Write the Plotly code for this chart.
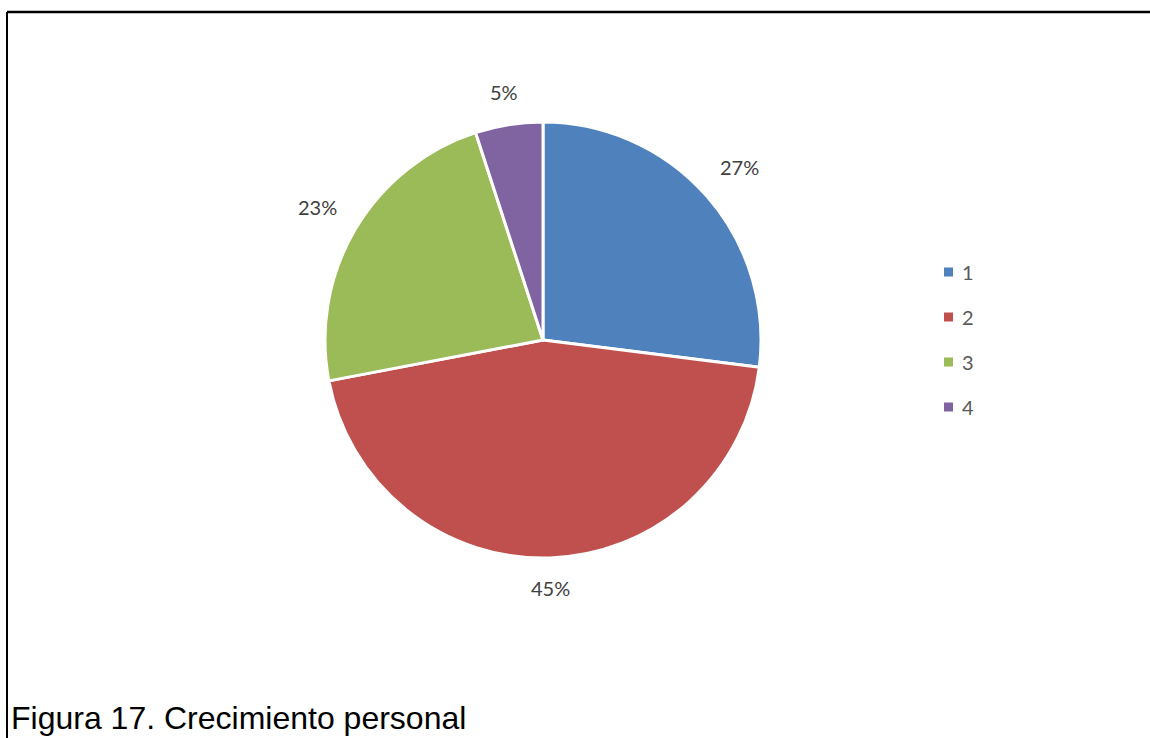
import math
import plotly.graph_objects as go

# Data
categories = ["1", "2", "3", "4"]
values = [27, 45, 23, 5]
colors = ["#4F81BD", "#C0504D", "#9BBB59", "#8064A2"]
caption = "Figura 17. Crecimiento personal"

W, H = 1150, 738
cx, cy, R = 543, 340, 218  # pie centre and radius in pixels


def px(x):
    return x / W


def py(y):
    return 1 - y / H


fig = go.Figure()
fig.add_trace(go.Pie(
    labels=categories,
    values=values,
    sort=False,
    direction="clockwise",
    rotation=0,
    marker=dict(colors=colors, line=dict(color="white", width=3)),
    textinfo="none",
    hoverinfo="label+percent",
    showlegend=False,
    domain=dict(x=[px(cx - R), px(cx + R)], y=[py(cy + R), py(cy - R)]),
))

annotations = []
shapes = []

# Percentage labels outside each slice, at the slice's mid angle
total = sum(values)
label_font = dict(family="Lato, Open Sans, sans-serif", size=20, color="#404040")
cum = 0
for v in values:
    mid = (cum + v / 2) / total * 2 * math.pi
    cum += v
    dx, dy = math.sin(mid), -math.cos(mid)
    r = R + 10 + 28 * abs(dx) + 19 * abs(dy)
    lx, ly = cx + r * dx, cy + r * dy
    annotations.append(dict(
        x=px(lx), y=py(ly), xref="paper", yref="paper",
        text=f"{round(v / total * 100)}%", showarrow=False,
        xanchor="center", yanchor="middle", font=label_font,
    ))

# Legend: small squares with category names
leg_x, leg_y0, leg_dy, sq = 948.5, 272, 45, 9
for i, (cat, col) in enumerate(zip(categories, colors)):
    yy = leg_y0 + i * leg_dy
    shapes.append(dict(
        type="rect", xref="paper", yref="paper",
        x0=px(leg_x - sq / 2), x1=px(leg_x + sq / 2),
        y0=py(yy + sq / 2), y1=py(yy - sq / 2),
        fillcolor=col, line=dict(width=0),
    ))
    annotations.append(dict(
        x=px(960), y=py(yy), xref="paper", yref="paper",
        text=cat, showarrow=False, xanchor="left", yanchor="middle",
        font=dict(family="Lato, Open Sans, sans-serif", size=20, color="#595959"),
    ))

# Frame lines
shapes.append(dict(type="line", xref="paper", yref="paper",
                   x0=px(7), x1=1, y0=py(12), y1=py(12),
                   line=dict(color="black", width=2.5)))
shapes.append(dict(type="line", xref="paper", yref="paper",
                   x0=px(7), x1=px(7), y0=py(12), y1=0,
                   line=dict(color="black", width=2)))

# Caption
annotations.append(dict(
    x=px(9), y=py(718), xref="paper", yref="paper",
    text=caption, showarrow=False, xanchor="left", yanchor="middle",
    font=dict(family="Liberation Sans, Arial, sans-serif", size=32, color="black"),
))

fig.update_layout(
    width=W, height=H,
    margin=dict(l=0, r=0, t=0, b=0),
    paper_bgcolor="white", plot_bgcolor="white",
    annotations=annotations, shapes=shapes,
    showlegend=False,
)

fig.write_html("out.html", config={"displayModeBar": False})
